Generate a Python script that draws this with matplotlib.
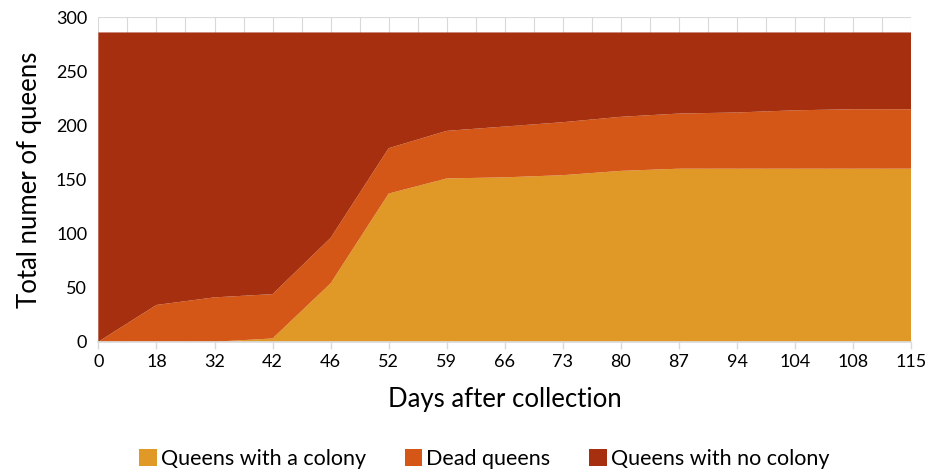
import matplotlib.pyplot as plt
import numpy as np
from matplotlib.patches import Patch

plt.rcParams["font.family"] = ["Lato", "DejaVu Sans"]

# Days after collection (categorical, evenly spaced on the axis)
days = ["0", "18", "32", "42", "46", "52", "59", "66", "73", "80", "87", "94", "104", "108", "115"]

# Cumulative counts per category
with_colony = [0, 0, 0, 3, 54, 137, 151, 152, 154, 158, 160, 160, 160, 160, 160]
dead = [0, 34, 41, 41, 42, 42, 44, 47, 49, 50, 51, 52, 54, 55, 55]
no_colony = [286, 252, 245, 242, 190, 107, 91, 87, 83, 78, 75, 74, 72, 71, 71]

labels = ["Queens with a colony", "Dead queens", "Queens with no colony"]
colors = ["#E09826", "#D55717", "#A62F10"]

fig = plt.figure(figsize=(9.28, 4.73), dpi=100)
ax = fig.add_axes([0.106, 0.2776, 0.876, 0.6858])

x = np.arange(len(days))

# light grid behind the stacked areas
for gx in np.arange(0, len(days) - 0.5, 0.5):
    ax.axvline(gx, color="#D9D9D9", linewidth=0.8, zorder=0)
for gy in range(50, 301, 50):
    ax.axhline(gy, color="#D9D9D9", linewidth=0.8, zorder=0)

ax.stackplot(x, with_colony, dead, no_colony, colors=colors, linewidth=0, zorder=2)

ax.set_xlim(0, len(days) - 1)
ax.set_ylim(0, 300)
ax.set_xticks(x)
ax.set_xticklabels(days)
ax.set_yticks(range(0, 301, 50))

for side in ["top", "right", "left"]:
    ax.spines[side].set_visible(False)
ax.spines["bottom"].set_color("#D9D9D9")
ax.spines["bottom"].set_linewidth(1.2)
ax.spines["bottom"].set_zorder(3)

ax.tick_params(axis="x", length=5, color="#D9D9D9", width=1, labelsize=13, pad=4)
ax.tick_params(axis="y", length=0, labelsize=13, pad=8)

ax.set_xlabel("Days after collection", fontsize=18.5, labelpad=12)
ax.set_ylabel("Total numer of queens", fontsize=18.5, labelpad=10)

handles = [Patch(facecolor=c, edgecolor="none") for c in colors]
fig.legend(handles, labels, loc="center", bbox_to_anchor=(0.522, 0.03), ncol=3,
           frameon=False, fontsize=15.5, handlelength=0.8, handleheight=0.8,
           handletextpad=0.2, columnspacing=1.8)

fig.savefig("out.png", dpi=100)
